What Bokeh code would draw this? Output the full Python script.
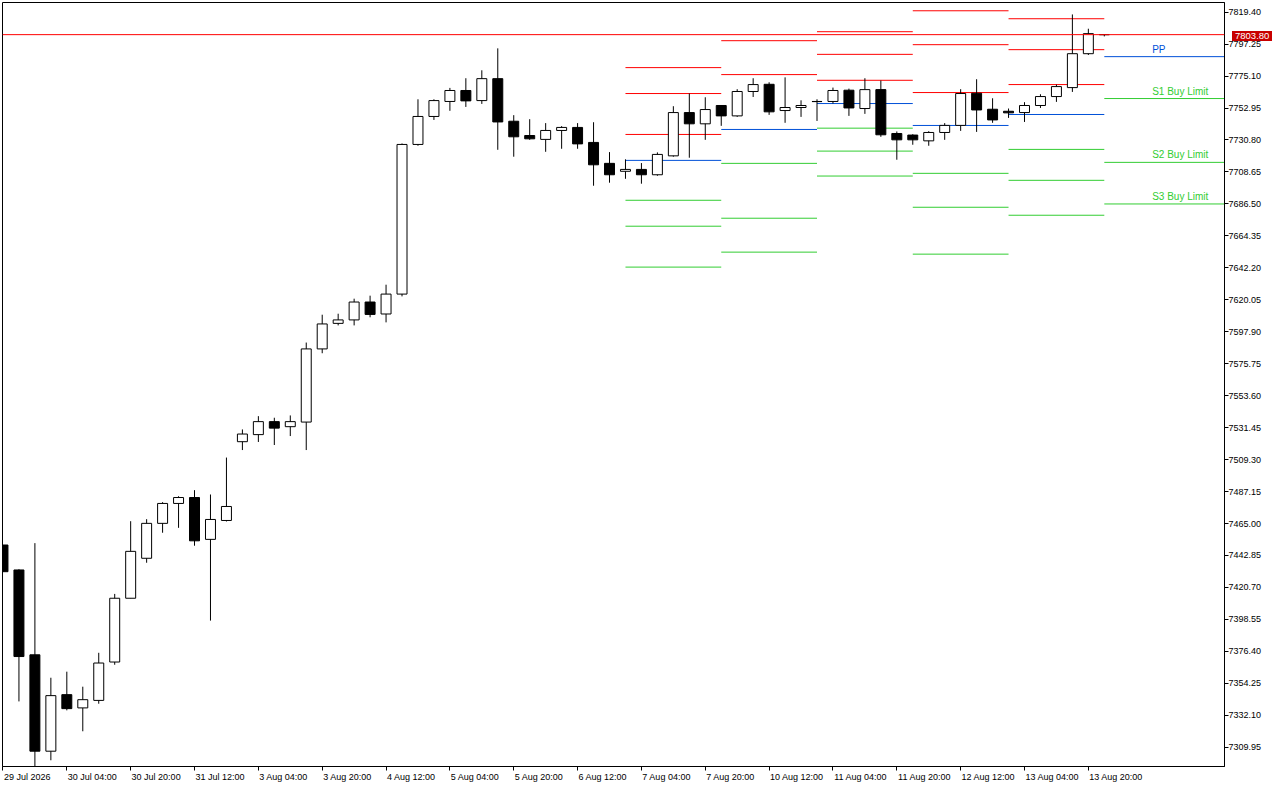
from bokeh.plotting import figure
from bokeh.models import (ColumnDataSource, FixedTicker, PrintfTickFormatter, Span, Range1d, Div,
                          LinearAxis, CustomJSTickFormatter)
from bokeh.layouts import column
from bokeh.core.properties import value
from bokeh.embed import file_html
from bokeh.resources import INLINE

# ---- H4 candles (bar index 0 = 29 Jul 2026 12:00) ----
bar_open = [7450.1, 7432.8, 7374.0, 7307.2, 7346.4, 7337.2, 7342.4, 7369.0, 7413.2, 7440.9,
            7465.1, 7478.9, 7483.0, 7454.0, 7467.1, 7521.7, 7526.6, 7535.6, 7532.1, 7535.3,
            7586.0, 7603.7, 7606.1, 7618.5, 7610.2, 7624.0, 7727.7, 7747.1, 7757.5, 7765.1,
            7758.1, 7773.3, 7743.8, 7733.9, 7731.2, 7737.4, 7739.5, 7729.1, 7714.6, 7709.1,
            7710.4, 7706.7, 7719.8, 7749.8, 7742.0, 7754.7, 7747.5, 7764.4, 7769.4, 7751.2,
            7753.3, 7757.4, 7757.5, 7765.3, 7752.6, 7765.7, 7735.3, 7734.2, 7730.2, 7736.0,
            7740.9, 7763.2, 7752.1, 7750.7, 7749.8, 7754.7, 7760.9, 7767.1, 7790.6, 7803.8]
bar_high = [7450.1, 7433.3, 7451.4, 7358.1, 7362.3, 7351.9, 7375.4, 7416.2, 7466.6, 7468.0,
            7479.8, 7483.9, 7488.1, 7485.1, 7510.7, 7530.2, 7539.4, 7538.3, 7539.9, 7590.4,
            7609.7, 7610.4, 7620.8, 7622.9, 7630.5, 7728.4, 7759.0, 7759.0, 7766.9, 7773.6,
            7779.1, 7794.3, 7748.0, 7745.2, 7742.5, 7740.4, 7742.5, 7743.1, 7722.4, 7717.4,
            7714.8, 7722.2, 7754.2, 7763.0, 7760.4, 7754.9, 7766.0, 7773.6, 7770.8, 7774.2,
            7758.3, 7759.0, 7767.1, 7766.4, 7773.6, 7772.0, 7736.7, 7734.8, 7736.9, 7742.5,
            7766.0, 7772.9, 7759.7, 7752.6, 7757.0, 7762.5, 7769.2, 7817.8, 7807.9, 7804.0]
bar_low = [7431.6, 7341.7, 7292.9, 7300.9, 7335.5, 7321.0, 7340.1, 7367.1, 7413.2, 7437.8,
           7458.6, 7462.0, 7449.6, 7397.7, 7466.4, 7515.9, 7521.5, 7519.4, 7525.6, 7515.9,
           7583.0, 7602.3, 7602.3, 7607.9, 7604.4, 7622.4, 7726.8, 7744.7, 7751.0, 7753.7,
           7755.8, 7724.0, 7719.2, 7730.9, 7722.6, 7724.7, 7724.7, 7699.1, 7701.2, 7703.9,
           7700.5, 7706.0, 7719.2, 7718.5, 7730.9, 7740.6, 7746.8, 7760.6, 7748.2, 7742.7,
           7746.8, 7744.0, 7756.1, 7747.5, 7748.9, 7733.0, 7717.1, 7727.5, 7726.8, 7730.9,
           7737.1, 7736.4, 7742.7, 7746.1, 7743.3, 7753.0, 7757.2, 7764.1, 7789.7, 7802.6]
bar_close = [7431.6, 7372.8, 7307.2, 7345.7, 7336.7, 7342.9, 7368.3, 7413.2, 7445.7, 7465.1,
             7478.9, 7483.0, 7453.0, 7467.8, 7476.8, 7527.0, 7535.6, 7531.1, 7535.6, 7586.0,
             7603.3, 7606.1, 7618.5, 7609.9, 7624.0, 7727.7, 7747.1, 7758.1, 7765.1, 7757.9,
             7773.3, 7743.3, 7733.0, 7731.6, 7737.4, 7739.5, 7728.1, 7713.6, 7706.7, 7710.4,
             7706.7, 7720.8, 7749.8, 7742.0, 7751.9, 7747.5, 7764.4, 7769.2, 7750.3, 7753.3,
             7754.7, 7757.5, 7765.1, 7753.0, 7765.7, 7734.4, 7730.9, 7730.9, 7736.0, 7740.9,
             7763.0, 7751.6, 7744.7, 7749.6, 7754.7, 7760.9, 7767.8, 7790.6, 7804.5, 7803.8]

# ---- daily pivot levels ----
pivot_days = ["7 Aug", "10 Aug", "11 Aug", "12 Aug", "13 Aug", "14 Aug"]
day_start_bar = [39, 45, 51, 57, 63, 69]
R3 = [7780.95, None, 7805.83, 7820.35, 7814.82, None]
R2 = [7762.98, 7799.61, 7790.14, 7796.85, 7793.39, None]
R1 = [7734.63, 7776.11, 7772.17, 7763.67, 7769.20, None]
PP = [7716.66, 7738.09, 7756.06, 7740.86, 7748.46, 7788.55]
S1 = [7689.01, 7714.59, 7738.99, 7707.68, 7724.27, 7759.52]
S2 = [7671.04, 7676.57, 7723.09, 7684.17, 7702.84, 7715.28]
S3 = [7642.70, 7653.07, 7705.81, 7651.68, 7678.64, 7686.46]
level_names = ["PP", "S1 Buy Limit", "S2 Buy Limit", "S3 Buy Limit"]

current_price = 7803.80

x_tick_bars = [0, 4, 8, 12, 16, 20, 24, 28, 32, 36, 40, 44, 48, 52, 56, 60, 64, 68]
x_tick_labels = ["29 Jul 2026", "30 Jul 04:00", "30 Jul 20:00", "31 Jul 12:00", "3 Aug 04:00",
                 "3 Aug 20:00", "4 Aug 12:00", "5 Aug 04:00", "5 Aug 20:00", "6 Aug 12:00",
                 "7 Aug 04:00", "7 Aug 20:00", "10 Aug 12:00", "11 Aug 04:00", "11 Aug 20:00",
                 "12 Aug 12:00", "13 Aug 04:00", "13 Aug 20:00"]
y_ticks = [7309.95, 7332.10, 7354.25, 7376.40, 7398.55, 7420.70, 7442.85, 7465.00,
           7487.15, 7509.30, 7531.45, 7553.60, 7575.75, 7597.90, 7620.05, 7642.20,
           7664.35, 7686.50, 7708.65, 7730.80, 7752.95, 7775.10, 7797.25, 7819.40]

FONT = value("Liberation Sans")
RED = "#ff0000"
BLUE = "#0050d8"
GREEN = "#32cd32"
LABEL_PX = 9
PX_PER_BAR = 16.0

X0, X1 = -0.03, 76.53
p = figure(width=1264, height=784,
           x_range=Range1d(X0, X1), y_range=Range1d(7296.59, 7826.08),
           output_backend="svg", toolbar_location=None, y_axis_location="right",
           min_border_left=2, min_border_top=2, min_border_right=37, min_border_bottom=16,
           background_fill_color="white", border_fill_color="white")
p.outline_line_color = "black"
p.outline_line_width = 1
p.grid.visible = False

# y axis (right price scale)
p.yaxis.ticker = FixedTicker(ticks=y_ticks)
p.yaxis.formatter = PrintfTickFormatter(format="%.2f")

# x axis: tick marks on the bars; labels on a second axis, starting at each tick
p.xaxis.ticker = FixedTicker(ticks=x_tick_bars)
p.xaxis.major_label_text_font_size = "0px"
p.xaxis.major_label_overrides = {t: "" for t in x_tick_bars}

for ax in (p.xaxis, p.yaxis):
    ax.axis_line_color = "black"
    ax.major_tick_line_color = "black"
    ax.major_tick_out = 4
    ax.major_tick_in = 0
    ax.minor_tick_line_color = None
    ax.major_label_standoff = 0
p.yaxis.major_label_text_font = "Liberation Sans"
p.yaxis.major_label_text_font_size = f"{LABEL_PX}px"
p.yaxis.major_label_text_color = "black"

# left-aligned time labels: centre each label half its width right of its tick
em = {" ": .278, ":": .278, "J": .5, "u": .556, "l": .222, "A": .667, "g": .556}
def text_width(s):
    return sum(em.get(ch, .556) for ch in s) * LABEL_PX
label_centres = [b + (1 + text_width(s) / 2) / PX_PER_BAR for b, s in zip(x_tick_bars, x_tick_labels)]
time_axis = LinearAxis(ticker=FixedTicker(ticks=label_centres),
                       formatter=CustomJSTickFormatter(args=dict(labels=x_tick_labels),
                                                       code="return labels[index];"),
                       axis_line_color=None, major_tick_line_color=None, minor_tick_line_color=None,
                       major_tick_out=0, major_tick_in=0, major_label_standoff=1,
                       major_label_text_font="Liberation Sans",
                       major_label_text_font_size=f"{LABEL_PX}px",
                       major_label_text_color="black")
p.add_layout(time_axis, "below")

# pivot segments
ends = day_start_bar[1:] + [X1]
for levels, col in ((R3, RED), (R2, RED), (R1, RED), (PP, BLUE), (S1, GREEN), (S2, GREEN), (S3, GREEN)):
    xs0, xs1, ys = [], [], []
    for s, e, v in zip(day_start_bar, ends, levels):
        if v is not None:
            xs0.append(s); xs1.append(e); ys.append(v)
    p.segment(x0=xs0, y0=ys, x1=xs1, y1=ys, line_color=col, line_width=1)

# current price line
p.add_layout(Span(location=current_price, dimension="width", line_color=RED, line_width=1))

# candles
idx = list(range(len(bar_open)))
src = ColumnDataSource(dict(
    x=idx, high=bar_high, low=bar_low,
    top=[max(o, c) for o, c in zip(bar_open, bar_close)],
    bottom=[min(o, c) for o, c in zip(bar_open, bar_close)],
    fill=["white" if c >= o else "black" for o, c in zip(bar_open, bar_close)],
))
p.segment(x0="x", y0="low", x1="x", y1="high", source=src, line_color="black", line_width=1)
p.vbar(x="x", top="top", bottom="bottom", width=0.625, fill_color="fill",
       line_color="black", line_width=1, source=src)

# labels of current-day levels
p.text(x=[72] * 4, y=[PP[-1], S1[-1], S2[-1], S3[-1]], text=level_names,
       text_color=[BLUE, GREEN, GREEN, GREEN], text_font=FONT, text_font_size="10px",
       text_baseline="bottom", text_align="left", y_offset=-2)

# current price tag over the right price scale
tag = Div(text=f"{current_price:.2f}",
          styles={"position": "absolute", "left": "1227px", "top": "26px",
                  "background-color": "#c80000", "color": "white",
                  "font-family": "'Liberation Sans'", "font-size": "9.5px",
                  "line-height": "10px", "padding": "0px 3px", "z-index": "10"})

layout = column(p, tag)
open("out.html", "w").write(file_html(layout, INLINE))
